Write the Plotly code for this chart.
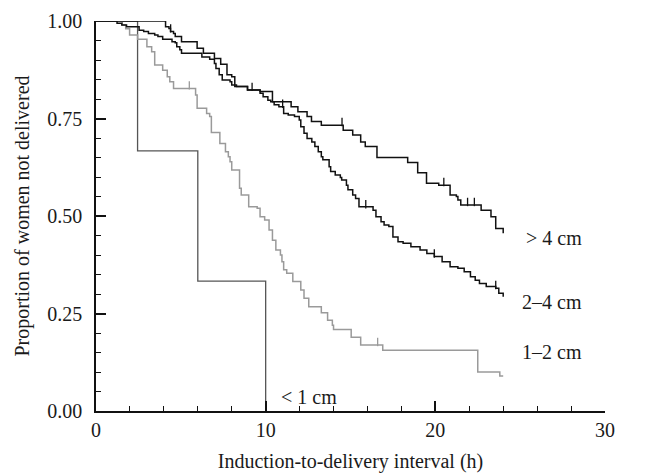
import plotly.graph_objects as go

# ---------------- data ----------------
t_lt1 = [0, 2.45, 6.0, 10.0]
s_lt1 = [1.0, 0.667, 0.333, 0.0]

t_12 = [0, 1.55, 1.75, 1.98, 2.45, 3.0, 3.28, 3.46, 3.93, 4.2, 4.35, 4.57, 5.87, 5.96,
        6.52, 6.7, 6.8, 7.3, 7.63, 7.8, 7.9, 8.0, 8.46, 8.56, 9.0, 9.5, 9.67, 9.94,
        10.2, 10.4, 10.6, 10.87, 10.96, 11.06, 11.24, 11.6, 12.07, 12.26, 12.54, 13.28,
        13.65, 13.93, 14.0, 15.04, 15.6, 16.9, 22.5, 23.8, 24.0]
s_12 = [1.0, 0.99, 0.98, 0.964, 0.953, 0.934, 0.921, 0.887, 0.874, 0.857, 0.844, 0.827,
        0.81, 0.776, 0.763, 0.755, 0.714, 0.686, 0.665, 0.652, 0.639, 0.618, 0.571, 0.554,
        0.524, 0.52, 0.498, 0.49, 0.464, 0.438, 0.413, 0.4, 0.383, 0.362, 0.353, 0.332,
        0.31, 0.289, 0.267, 0.252, 0.233, 0.22, 0.209, 0.189, 0.169, 0.156, 0.10, 0.09, 0.09]

t_24 = [0, 1.24, 1.52, 1.8, 2.54, 2.81, 3.09, 3.46, 3.65, 3.93, 4.48, 4.67, 4.76, 4.94,
        5.04, 6.24, 6.7, 6.98, 7.07, 7.26, 7.44, 7.9, 8.0, 8.28, 8.93, 9.67, 9.85, 10.13,
        10.3, 10.5, 10.78, 11.06, 11.33, 11.7, 11.98, 12.07, 12.26, 12.44, 12.72, 12.9,
        13.1, 13.28, 13.37, 13.74, 13.83, 14.1, 14.4, 14.48, 14.76, 14.85, 15.13, 15.3,
        15.5, 16.33, 16.5, 16.8, 16.98, 17.26, 17.5, 17.8, 18.1, 18.56, 19.1, 19.5, 19.94,
        20.4, 20.87, 21.33, 21.7, 22.07, 22.35, 22.6, 23.0, 23.56, 23.74, 24.0]
s_24 = [1.0, 0.994, 0.99, 0.985, 0.976, 0.973, 0.968, 0.964, 0.96, 0.953, 0.947, 0.944,
        0.934, 0.926, 0.917, 0.908, 0.902, 0.891, 0.878, 0.862, 0.849, 0.844, 0.836, 0.832,
        0.823, 0.815, 0.806, 0.797, 0.793, 0.785, 0.78, 0.763, 0.759, 0.755, 0.746, 0.729,
        0.712, 0.699, 0.69, 0.678, 0.665, 0.652, 0.644, 0.626, 0.614, 0.605, 0.599, 0.592,
        0.579, 0.567, 0.554, 0.545, 0.524, 0.515, 0.498, 0.485, 0.477, 0.473, 0.446, 0.434,
        0.43, 0.421, 0.413, 0.404, 0.396, 0.383, 0.37, 0.366, 0.357, 0.344, 0.335, 0.327,
        0.319, 0.315, 0.302, 0.293]

t_gt4 = [0, 4.1, 4.3, 4.39, 4.57, 4.67, 5.04, 5.96, 6.33, 6.98, 7.35, 7.72, 8.0, 8.18,
         8.93, 9.67, 10.4, 11.5, 11.9, 12.44, 12.7, 13.28, 14.57, 15.13, 15.6, 15.87,
         16.56, 18.37, 18.96, 19.48, 20.2, 20.87, 21.24, 21.33, 21.5, 22.7, 23.28, 23.56, 24.0]
s_gt4 = [1.0, 0.985, 0.981, 0.973, 0.968, 0.96, 0.947, 0.93, 0.917, 0.904, 0.889, 0.862,
         0.857, 0.832, 0.823, 0.819, 0.793, 0.78, 0.767, 0.755, 0.742, 0.733, 0.72, 0.708,
         0.69, 0.678, 0.65, 0.637, 0.611, 0.584, 0.579, 0.554, 0.55, 0.541, 0.528, 0.515,
         0.498, 0.468, 0.456]

# censored observations (small vertical tick marks)
cens_t_12 = [5.5, 16.6]
cens_s_12 = [0.827, 0.169]
cens_t_24 = [11.0, 15.9, 19.94, 23.56]
cens_s_24 = [0.78, 0.522, 0.396, 0.315]
cens_t_gt4 = [4.4, 9.2, 14.5, 20.5, 21.9, 22.3]
cens_s_gt4 = [0.973, 0.823, 0.733, 0.579, 0.528, 0.528]

group_labels = ["< 1 cm", "1\u20132 cm", "2\u20134 cm", "> 4 cm"]
label_x = [10.8, 25.0, 25.0, 25.2]
label_y = [0.036, 0.151, 0.28, 0.444]

x_title = "Induction-to-delivery interval (h)"
y_title = "Proportion of women not delivered"

# ---------------- figure ----------------
FONT = "Liberation Serif"
FS = 20
TXT = "#1a1a1a"
series = [
    (t_lt1, s_lt1, "#555555", 1.3),
    (t_12, s_12, "#9a9a9a", 1.5),
    (t_24, s_24, "#111111", 1.5),
    (t_gt4, s_gt4, "#111111", 1.5),
]

fig = go.Figure()
for (tx, sy, col, w), name in zip(series, group_labels):
    fig.add_trace(go.Scatter(x=tx, y=sy, mode="lines", line_shape="hv",
                             line=dict(color=col, width=w), name=name,
                             showlegend=False, hoverinfo="skip"))

for ct, cs, col in [(cens_t_12, cens_s_12, "#9a9a9a"),
                    (cens_t_24, cens_s_24, "#111111"),
                    (cens_t_gt4, cens_s_gt4, "#111111")]:
    fig.add_trace(go.Scatter(x=ct, y=[v + 0.008 for v in cs], mode="markers",
                             marker=dict(symbol="line-ns", size=6,
                                         line=dict(color=col, width=1.3)),
                             showlegend=False, hoverinfo="skip"))

for name, lx, ly in zip(group_labels, label_x, label_y):
    fig.add_annotation(x=lx, y=ly, text=name, showarrow=False, xanchor="left",
                       yanchor="middle", font=dict(family=FONT, size=FS, color=TXT))

axis_common = dict(showline=True, linecolor="#111111", linewidth=1.5, showgrid=False,
                   zeroline=False, ticks="inside", tickcolor="#111111", tickwidth=1.5,
                   ticklen=10, automargin=False,
                   tickfont=dict(family=FONT, size=FS, color=TXT),
                   title_font=dict(family=FONT, size=FS, color=TXT))

fig.update_xaxes(range=[0, 30], tick0=0, dtick=10, **axis_common,
                 minor=dict(dtick=2, ticklen=5, ticks="inside", tickcolor="#111111",
                            tickwidth=1.2),
                 title_text=x_title, title_standoff=16)
fig.update_yaxes(range=[0, 1], tick0=0, dtick=0.25, tickformat=".2f", **axis_common,
                 minor=dict(dtick=0.05, ticklen=5, ticks="inside", tickcolor="#111111",
                            tickwidth=1.2),
                 ticklabelstandoff=8,
                 title_text=y_title, title_standoff=12)

fig.update_layout(width=648, height=473, margin=dict(l=96, r=43, t=21, b=62),
                  plot_bgcolor="white", paper_bgcolor="white",
                  font=dict(family=FONT, size=FS, color=TXT))

# remove the default 8px page margin so the figure fills the window exactly
fig.write_html("out.html", config={"displayModeBar": False},
               post_script="document.body.style.margin='0px';"
                           "document.body.style.overflow='hidden';")
